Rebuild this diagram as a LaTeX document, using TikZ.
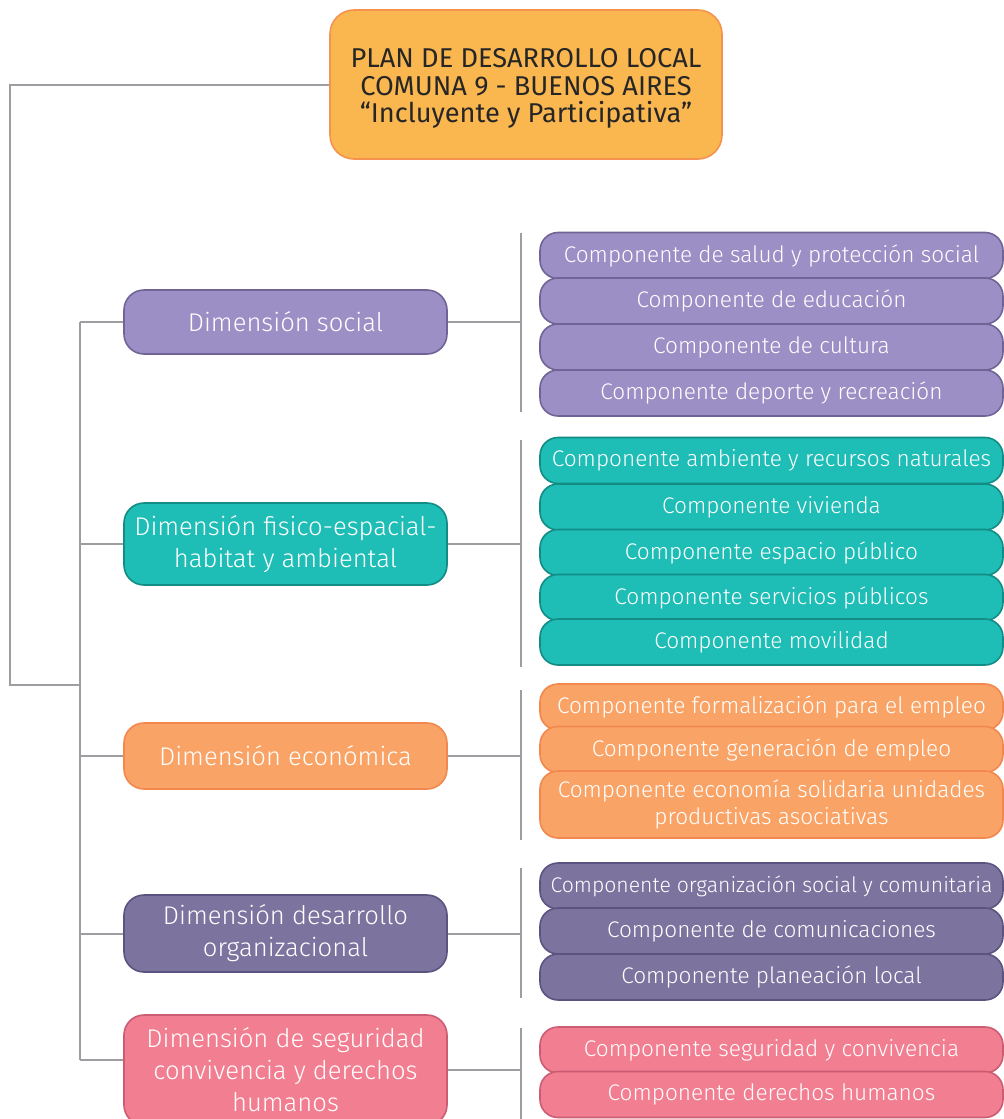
\documentclass[tikz,border=0pt]{standalone}
\usepackage{fontspec}
\setmainfont{Fira Sans}[UprightFont={* Light}]
\newfontfamily\titlefont{Fira Sans}[Ligatures=TeX]
\definecolor{titfill}{HTML}{FBB74F}
\definecolor{titline}{HTML}{F6924F}
\definecolor{socfill}{HTML}{9C8FC5}
\definecolor{socline}{HTML}{6F6495}
\definecolor{fisfill}{HTML}{1EBDB6}
\definecolor{fisline}{HTML}{128C84}
\definecolor{ecofill}{HTML}{F9A466}
\definecolor{ecoline}{HTML}{F2874F}
\definecolor{orgfill}{HTML}{7D739F}
\definecolor{orgline}{HTML}{5C5480}
\definecolor{segfill}{HTML}{F27E91}
\definecolor{segline}{HTML}{CC5C72}
\definecolor{linkgray}{HTML}{9D9DA2}
\tikzset{
  box/.style={rounded corners=10pt, line width=0.8pt, align=center, text=white, inner sep=0pt},
  dimbox/.style={box, minimum width=161.5pt, font=\fontsize{12.8}{16}\selectfont},
  compbox/.style={box, minimum width=231.5pt, minimum height=23pt, rounded corners=9pt, font=\fontsize{11.3}{13.5}\selectfont},
  link/.style={draw=linkgray, line width=1pt},
}
\begin{document}
\begin{tikzpicture}[x=0.5pt, y=-0.5pt]
  \useasboundingbox (0,0) rectangle (1004,1119);
  % title
  \node[box, fill=titfill, draw=titline, rounded corners=12pt,
    minimum width=196pt, minimum height=74.5pt] (plan) at (526,84.5) {};
  \node[align=center, text=black!85, inner sep=0pt, font=\titlefont\fontsize{13.6}{13.9}\selectfont]
    (plantext) at ([yshift=-2pt]plan.center) {PLAN DE DESARROLLO LOCAL\\COMUNA 9 - BUENOS AIRES\\“Incluyente y Participativa”};
  % dimensions
  \node[dimbox, fill=socfill, draw=socline, minimum height=32pt] (dsoc) at (285.5,322) {Dimensión social};
  \node[dimbox, fill=fisfill, draw=fisline, minimum height=41pt] (dfis) at (285.5,544) {Dimensión fisico-espacial-\\habitat y ambiental};
  \node[dimbox, fill=ecofill, draw=ecoline, minimum height=33pt] (deco) at (285.5,756) {Dimensión económica};
  \node[dimbox, fill=orgfill, draw=orgline, minimum height=38.5pt] (dorg) at (285.5,933.5) {Dimensión desarrollo\\organizacional};
  \node[dimbox, fill=segfill, draw=segline, minimum height=55pt] (dseg) at (285.5,1070) {Dimensión de seguridad\\convivencia y derechos\\humanos};
  % components
  \foreach \y/\t [count=\i] in {255.5/Componente de salud y protección social, 301/Componente de educación,
      347/Componente de cultura, 393/Componente deporte y recreación}
    \node[compbox, fill=socfill, draw=socline] (csoc\i) at (771.5,\y) {\t};
  \foreach \y/\t [count=\i] in {460.5/Componente ambiente y recursos naturales, 507/Componente vivienda,
      552.5/Componente espacio público, 597.5/Componente servicios públicos, 642/Componente movilidad}
    \node[compbox, fill=fisfill, draw=fisline] (cfis\i) at (771.5,\y) {\t};
  \foreach \y/\t [count=\i] in {707/Componente formalización para el empleo, 749.5/Componente generación de empleo}
    \node[compbox, fill=ecofill, draw=ecoline] (ceco\i) at (771.5,\y) {\t};
  \node[compbox, fill=ecofill, draw=ecoline, minimum height=33.5pt] (ceco3) at (771.5,804.5)
    {Componente economía solidaria unidades\\productivas asociativas};
  \node[compbox, fill=orgfill, draw=orgline, font=\fontsize{10.6}{13.5}\selectfont] (corg1) at (771.5,886)
    {Componente organización social y comunitaria};
  \foreach \y/\t [count=\i from 2] in {931/Componente de comunicaciones, 977/Componente planeación local}
    \node[compbox, fill=orgfill, draw=orgline] (corg\i) at (771.5,\y) {\t};
  \foreach \y/\t [count=\i] in {1050/Componente seguridad y convivencia, 1094.5/Componente derechos humanos}
    \node[compbox, fill=segfill, draw=segline] (cseg\i) at (771.5,\y) {\t};
  % trunk
  \coordinate (root) at (10,685);
  \coordinate (trunktop) at (80,322);
  \coordinate (trunkbot) at (80,1060);
  \draw[link] (plan.west) -| (root) -- (root -| trunktop);
  \draw[link] (trunktop) -- (trunkbot);
  \foreach \d in {dsoc,dfis,deco,dorg}
    \draw[link] (\d.west -| trunktop) -- (\d.west);
  \draw[link] (trunkbot) -- (trunkbot -| dseg.west);
  % bars
  \foreach \d/\a/\b in {dsoc/233/412, dfis/440/667, deco/690/840, dorg/868/998, dseg/1028/1125} {
    \coordinate (\d top) at (521,\a);
    \coordinate (\d bot) at (521,\b);
    \draw[link] (\d top) -- (\d bot);
    \draw[link] (\d.east) -- (\d.east -| \d top);
  }
\end{tikzpicture}
\end{document}
